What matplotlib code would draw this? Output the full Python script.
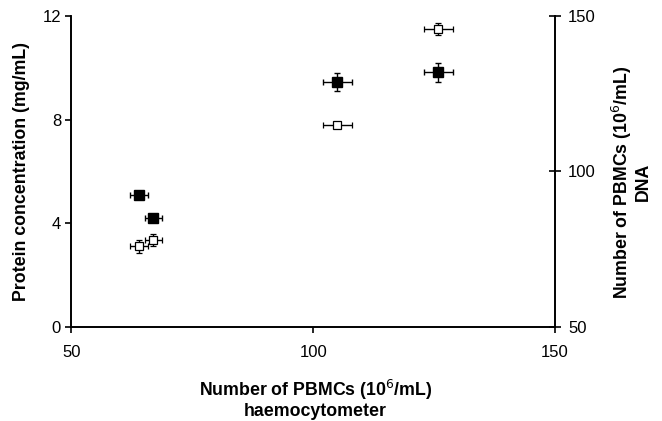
import matplotlib
matplotlib.use("Agg")
import matplotlib.pyplot as plt

plt.rcParams['font.family'] = ['Liberation Sans', 'DejaVu Sans']

# data
pbmc_haemo = [64.0, 66.9, 105.0, 125.9]
pbmc_haemo_err = [1.9, 1.8, 3.0, 3.0]
protein = [5.1, 4.2, 9.45, 9.82]
protein_err = [0.1, 0.1, 0.36, 0.38]
pbmc_dna = [76.0, 78.0, 115.0, 145.8]
pbmc_dna_err = [2.1, 2.0, 0.6, 2.0]

fig = plt.figure(figsize=(6.62, 4.21), dpi=100)
ax = fig.add_axes([0.108, 0.2233, 0.7304, 0.7387])
ax2 = ax.twinx()

ax.errorbar(pbmc_haemo, protein, xerr=pbmc_haemo_err, yerr=protein_err,
            fmt='s', color='black', mfc='black', mec='black', ms=6.5,
            ecolor='black', elinewidth=1, capsize=2.5, capthick=1, zorder=3)
ax2.errorbar(pbmc_haemo, pbmc_dna, xerr=pbmc_haemo_err, yerr=pbmc_dna_err,
             fmt='s', color='black', mfc='white', mec='black', ms=6, mew=0.9,
             ecolor='black', elinewidth=1, capsize=2.5, capthick=1, zorder=3)

ax.set_xlim(50, 150)
ax.set_ylim(0, 12)
ax2.set_ylim(50, 150)
ax.set_xticks([50, 100, 150])
ax.set_yticks([0, 4, 8, 12])
ax2.set_yticks([50, 100, 150])

for a in (ax, ax2):
    a.spines['top'].set_visible(False)
    for s in a.spines.values():
        s.set_linewidth(1.2)
ax.tick_params(axis='y', direction='out', length=4, width=1.2, labelsize=12, pad=3.5)
ax.tick_params(axis='x', direction='out', length=4, width=1.2, labelsize=12, pad=9)
ax2.tick_params(axis='y', direction='inout', length=9, width=1.2, labelsize=12, pad=5)

ax.set_xlabel('Number of PBMCs (10$^6$/mL)\nhaemocytometer', fontsize=12.8,
              fontweight='bold', linespacing=1.1)
ax.xaxis.set_label_coords(0.505, -0.163)
ax.set_ylabel('Protein concentration (mg/mL)', fontsize=12.8, fontweight='bold')
ax.yaxis.set_label_coords(-0.086, 0.5)
ax2.set_ylabel('Number of PBMCs (10$^6$/mL)\nDNA', fontsize=12.8, fontweight='bold',
               linespacing=1.1)
ax2.yaxis.set_label_coords(1.113, 0.466)

fig.savefig('out.png', dpi=100)
